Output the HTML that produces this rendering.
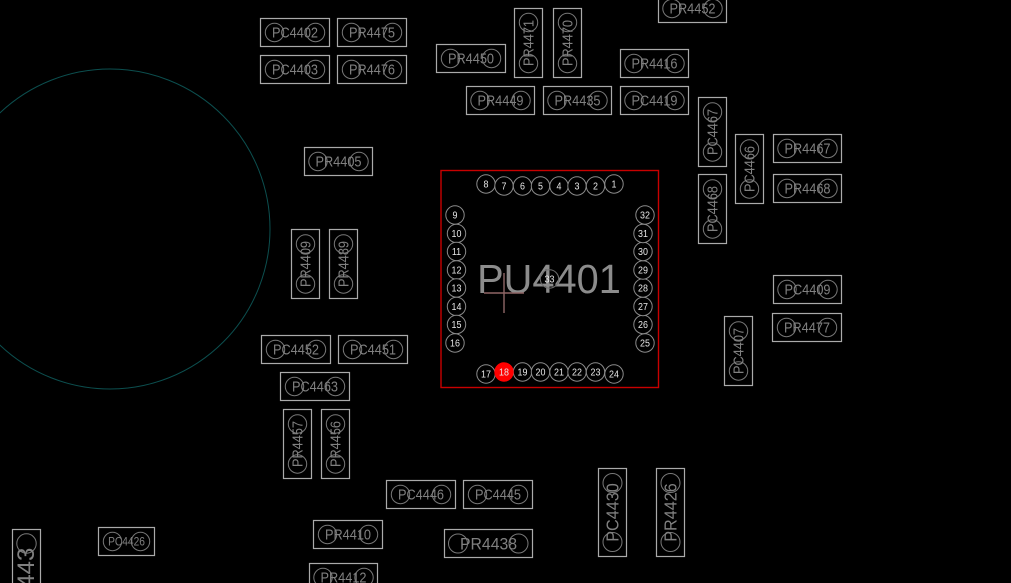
<!DOCTYPE html>
<html><head><meta charset="utf-8"><style>
html,body{margin:0;padding:0;background:#000;width:1011px;height:583px;overflow:hidden}
svg{display:block;font-family:"Liberation Sans",sans-serif}
.c rect{fill:none;stroke:#aaaaaa;stroke-width:1.2}
.c circle{fill:none;stroke:#787878;stroke-width:1}
.c text{fill:#808080;font-size:15px;text-anchor:middle;transform:scale(.85,1)}
.p circle{fill:#000;stroke:#8a8a8a;stroke-width:1}
.p text{fill:#e8e8e8;font-size:10.5px;text-anchor:middle;transform:scale(.85,1)}
</style></head><body>
<svg width="1011" height="583" viewBox="0 0 1011 583" xmlns="http://www.w3.org/2000/svg">
<circle cx="110" cy="229" r="160" fill="none" stroke="#0c4f4f" stroke-width="1"/>

<g class="c">
<g transform="translate(295,32.5)"><rect x="-34.5" y="-14" width="69" height="28"/><circle cx="-20.5" r="9.2"/><circle cx="20.5" r="9.2"/><text y="5">PC4402</text></g>
<g transform="translate(372,32.5)"><rect x="-34.5" y="-14" width="69" height="28"/><circle cx="-20.5" r="9.2"/><circle cx="20.5" r="9.2"/><text y="5">PR4475</text></g>
<g transform="translate(295,69.5)"><rect x="-34.5" y="-14" width="69" height="28"/><circle cx="-20.5" r="9.2"/><circle cx="20.5" r="9.2"/><text y="5">PC4403</text></g>
<g transform="translate(372,69.5)"><rect x="-34.5" y="-14" width="69" height="28"/><circle cx="-20.5" r="9.2"/><circle cx="20.5" r="9.2"/><text y="5">PR4476</text></g>
<g transform="translate(471,58.5)"><rect x="-34.5" y="-14" width="69" height="28"/><circle cx="-20.5" r="9.2"/><circle cx="20.5" r="9.2"/><text y="5">PR4450</text></g>
<g transform="translate(692.5,8.5)"><rect x="-34" y="-14" width="68" height="28"/><circle cx="-20.5" r="9.2"/><circle cx="20.5" r="9.2"/><text y="5">PR4452</text></g>
<g transform="translate(654.5,63.5)"><rect x="-34" y="-14" width="68" height="28"/><circle cx="-20.5" r="9.2"/><circle cx="20.5" r="9.2"/><text y="5">PR4416</text></g>
<g transform="translate(500.5,100.5)"><rect x="-34" y="-14" width="68" height="28"/><circle cx="-20.5" r="9.2"/><circle cx="20.5" r="9.2"/><text y="5">PR4449</text></g>
<g transform="translate(577.5,100.5)"><rect x="-34" y="-14" width="68" height="28"/><circle cx="-20.5" r="9.2"/><circle cx="20.5" r="9.2"/><text y="5">PR4435</text></g>
<g transform="translate(654.5,100.5)"><rect x="-34" y="-14" width="68" height="28"/><circle cx="-20.5" r="9.2"/><circle cx="20.5" r="9.2"/><text y="5">PC4419</text></g>
<g transform="translate(338.5,161.5)"><rect x="-34" y="-14" width="68" height="28"/><circle cx="-20.5" r="9.2"/><circle cx="20.5" r="9.2"/><text y="5">PR4405</text></g>
<g transform="translate(807.5,148.5)"><rect x="-34" y="-14" width="68" height="28"/><circle cx="-20.5" r="9.2"/><circle cx="20.5" r="9.2"/><text y="5">PR4467</text></g>
<g transform="translate(807.5,188.5)"><rect x="-34" y="-14" width="68" height="28"/><circle cx="-20.5" r="9.2"/><circle cx="20.5" r="9.2"/><text y="5">PR4468</text></g>
<g transform="translate(807.5,289.5)"><rect x="-34" y="-14" width="68" height="28"/><circle cx="-20.5" r="9.2"/><circle cx="20.5" r="9.2"/><text y="5">PC4409</text></g>
<g transform="translate(807,327.5)"><rect x="-34.5" y="-14" width="69" height="28"/><circle cx="-20.5" r="9.2"/><circle cx="20.5" r="9.2"/><text y="5">PR4477</text></g>
<g transform="translate(296,349.5)"><rect x="-34.5" y="-14" width="69" height="28"/><circle cx="-20.5" r="9.2"/><circle cx="20.5" r="9.2"/><text y="5">PC4452</text></g>
<g transform="translate(373,349.5)"><rect x="-34.5" y="-14" width="69" height="28"/><circle cx="-20.5" r="9.2"/><circle cx="20.5" r="9.2"/><text y="5">PC4451</text></g>
<g transform="translate(315,386.5)"><rect x="-34.5" y="-14" width="69" height="28"/><circle cx="-20.5" r="9.2"/><circle cx="20.5" r="9.2"/><text y="5">PC4463</text></g>
<g transform="translate(421,494.5)"><rect x="-34.5" y="-14" width="69" height="28"/><circle cx="-20.5" r="9.2"/><circle cx="20.5" r="9.2"/><text y="5">PC4446</text></g>
<g transform="translate(498,494.5)"><rect x="-34.5" y="-14" width="69" height="28"/><circle cx="-20.5" r="9.2"/><circle cx="20.5" r="9.2"/><text y="5">PC4445</text></g>
<g transform="translate(348,534.5)"><rect x="-34.5" y="-14" width="69" height="28"/><circle cx="-20.5" r="9.2"/><circle cx="20.5" r="9.2"/><text y="5">PR4410</text></g>
<g transform="translate(343.5,577.5)"><rect x="-34" y="-14" width="68" height="28"/><circle cx="-20.5" r="9.2"/><circle cx="20.5" r="9.2"/><text y="5">PR4412</text></g>
<g transform="translate(126.5,541.5)"><rect x="-28" y="-14" width="56" height="28"/><circle cx="-14" r="9.2"/><circle cx="14" r="9.2"/><text y="4" style="font-size:12px">PC4426</text></g>
<g transform="translate(488.5,543.5)"><rect x="-44" y="-14" width="88" height="28"/><circle cx="-30.5" r="9.5"/><circle cx="30" r="9.5"/><text y="6" style="font-size:17px;transform:scale(.93,1)">PR4438</text></g>

<g transform="translate(528.5,43) rotate(-90)"><rect x="-34.5" y="-14" width="69" height="28"/><circle cx="-20.5" r="9.2"/><circle cx="20.5" r="9.2"/><text y="5">PR4471</text></g>
<g transform="translate(567.5,43) rotate(-90)"><rect x="-34.5" y="-14" width="69" height="28"/><circle cx="-20.5" r="9.2"/><circle cx="20.5" r="9.2"/><text y="5">PR4470</text></g>
<g transform="translate(712.5,132) rotate(-90)"><rect x="-34.5" y="-14" width="69" height="28"/><circle cx="-20" r="9.2"/><circle cx="20" r="9.2"/><text y="5">PC4467</text></g>
<g transform="translate(712.5,209) rotate(-90)"><rect x="-34.5" y="-14" width="69" height="28"/><circle cx="-20" r="9.2"/><circle cx="20" r="9.2"/><text y="5">PC4468</text></g>
<g transform="translate(749.5,169) rotate(-90)"><rect x="-34.5" y="-14" width="69" height="28"/><circle cx="-20" r="9.2"/><circle cx="20" r="9.2"/><text y="5">PC4466</text></g>
<g transform="translate(305.5,264) rotate(-90)"><rect x="-34.5" y="-14" width="69" height="28"/><circle cx="-20" r="9.2"/><circle cx="20" r="9.2"/><text y="5">PR4409</text></g>
<g transform="translate(343.5,264) rotate(-90)"><rect x="-34.5" y="-14" width="69" height="28"/><circle cx="-20" r="9.2"/><circle cx="20" r="9.2"/><text y="5">PR4489</text></g>
<g transform="translate(738.5,351) rotate(-90)"><rect x="-34.5" y="-14" width="69" height="28"/><circle cx="-20" r="9.2"/><circle cx="20" r="9.2"/><text y="5">PC4407</text></g>
<g transform="translate(297.5,444) rotate(-90)"><rect x="-34.5" y="-14" width="69" height="28"/><circle cx="-20" r="9.2"/><circle cx="20" r="9.2"/><text y="5">PR4457</text></g>
<g transform="translate(335.5,444) rotate(-90)"><rect x="-34.5" y="-14" width="69" height="28"/><circle cx="-20" r="9.2"/><circle cx="20" r="9.2"/><text y="5">PR4456</text></g>
<g transform="translate(612.5,512.5) rotate(-90)"><rect x="-44" y="-14" width="88" height="28"/><circle cx="-29.5" r="9.5"/><circle cx="29.5" r="9.5"/><text y="6" style="font-size:18px;transform:scale(.9,1)">PC4430</text></g>
<g transform="translate(670.5,512.5) rotate(-90)"><rect x="-44" y="-14" width="88" height="28"/><circle cx="-29.5" r="9.5"/><circle cx="29.5" r="9.5"/><text y="6" style="font-size:18px;transform:scale(.9,1)">PR4426</text></g>
<g transform="translate(26.5,573.5) rotate(-90)"><rect x="-44" y="-14" width="88" height="28"/><circle cx="30" r="9.7"/><text x="-17.5" y="7.5" style="font-size:24px;transform:none">PC4443</text></g>
</g>

<rect x="441" y="170.5" width="217.5" height="217" fill="none" stroke="#c80000" stroke-width="1.4"/>

<g class="p">
<g transform="translate(486,184)"><circle r="9.2"/><text y="3.300">8</text></g>
<g transform="translate(504,186)"><circle r="9.2"/><text y="3.300">7</text></g>
<g transform="translate(522.500,186)"><circle r="9.2"/><text y="3.300">6</text></g>
<g transform="translate(540.500,186)"><circle r="9.2"/><text y="3.300">5</text></g>
<g transform="translate(559,186)"><circle r="9.2"/><text y="3.300">4</text></g>
<g transform="translate(577,186)"><circle r="9.2"/><text y="3.300">3</text></g>
<g transform="translate(595.500,186)"><circle r="9.2"/><text y="3.300">2</text></g>
<g transform="translate(614,184)"><circle r="9.2"/><text y="3.300">1</text></g>
<g transform="translate(455,215)"><circle r="9.2"/><text y="3.300">9</text></g>
<g transform="translate(456.500,233.500)"><circle r="9.2"/><text y="3.300">10</text></g>
<g transform="translate(456.500,251.500)"><circle r="9.2"/><text y="3.300">11</text></g>
<g transform="translate(456.500,270)"><circle r="9.2"/><text y="3.300">12</text></g>
<g transform="translate(456.500,288)"><circle r="9.2"/><text y="3.300">13</text></g>
<g transform="translate(456.500,306.500)"><circle r="9.2"/><text y="3.300">14</text></g>
<g transform="translate(456.500,324.500)"><circle r="9.2"/><text y="3.300">15</text></g>
<g transform="translate(455,343)"><circle r="9.2"/><text y="3.300">16</text></g>
<g transform="translate(486,374)"><circle r="9.2"/><text y="3.300">17</text></g>
<g transform="translate(522.500,372)"><circle r="9.2"/><text y="3.300">19</text></g>
<g transform="translate(540.500,372)"><circle r="9.2"/><text y="3.300">20</text></g>
<g transform="translate(559,372)"><circle r="9.2"/><text y="3.300">21</text></g>
<g transform="translate(577,372)"><circle r="9.2"/><text y="3.300">22</text></g>
<g transform="translate(595.500,372)"><circle r="9.2"/><text y="3.300">23</text></g>
<g transform="translate(614,374)"><circle r="9.2"/><text y="3.300">24</text></g>
<g transform="translate(645,343)"><circle r="9.2"/><text y="3.300">25</text></g>
<g transform="translate(643,324.500)"><circle r="9.2"/><text y="3.300">26</text></g>
<g transform="translate(643,306.500)"><circle r="9.2"/><text y="3.300">27</text></g>
<g transform="translate(643,288)"><circle r="9.2"/><text y="3.300">28</text></g>
<g transform="translate(643,270)"><circle r="9.2"/><text y="3.300">29</text></g>
<g transform="translate(643,251.500)"><circle r="9.2"/><text y="3.300">30</text></g>
<g transform="translate(643,233.500)"><circle r="9.2"/><text y="3.300">31</text></g>
<g transform="translate(645,215)"><circle r="9.2"/><text y="3.300">32</text></g>
<g transform="translate(504,372)"><circle r="9.2" style="fill:#ff0000;stroke:#ff0000"/><text y="3.300">18</text></g>
</g>

<text transform="translate(549,293) scale(.97,1)" font-size="41" fill="#8c8c8c" text-anchor="middle">PU4401</text>
<path d="M504 273V313M484 293H524" stroke="#8f6666" stroke-width="1.400" fill="none"/>
<g class="p"><g transform="translate(549.500,279)"><circle r="9.2" style="fill:none;stroke:#6e6e6e"/><text y="3.300">33</text></g></g>
</svg>
</body></html>
